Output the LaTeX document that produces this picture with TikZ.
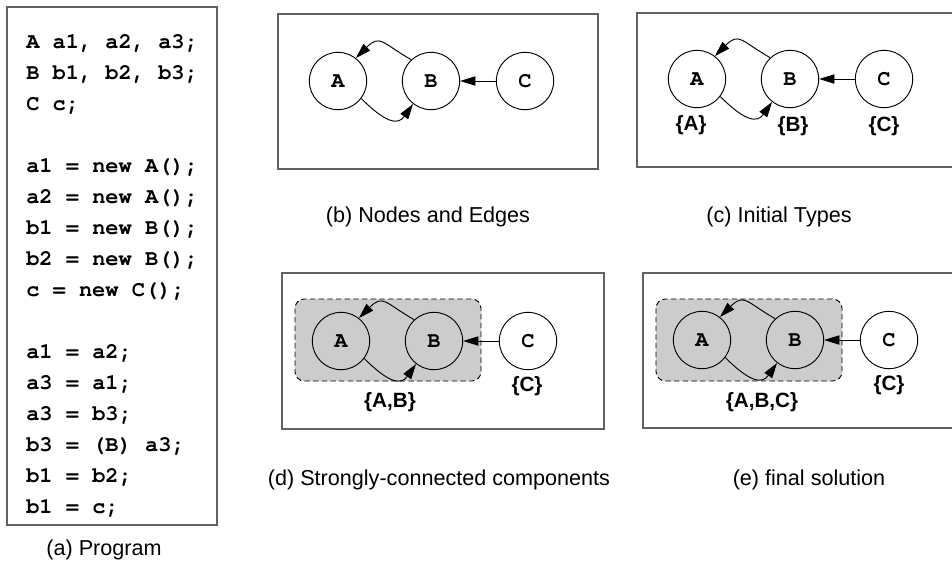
\documentclass[tikz,border=0pt]{standalone}
\usepackage{fontspec}
\setmainfont{Liberation Sans}
\newfontfamily\codefam{TeX Gyre Cursor}
\usetikzlibrary{arrows.meta}

% three-vertex graph A, B, C with the A<->B cycle and C -> B
\newcommand\abcgraph[1]{%
  \node[vertex] (#1A) at (0,0) {A};
  \node[vertex] (#1B) at (93,0) {B};
  \node[vertex] (#1C) at (187,0) {C};
  \draw[edge] (#1B.133) .. controls +(150:34) and +(45:34) .. (#1A.52);
  \draw[edge] (#1A.-37) .. controls +(-45:35) and +(-125:26) .. (#1B.-128);
  \draw[edge] (#1C) -- (#1B);
}

\begin{document}
\begin{tikzpicture}[x=0.75pt,y=0.75pt,
  panel/.style={draw=black!62, line width=1.1pt},
  code/.style={font=\codefam\bfseries\fontsize{16.5}{20}\selectfont, anchor=base west, inner sep=0pt},
  caption/.style={font=\fontsize{16.2}{20}\selectfont, inner sep=0pt},
  vertex/.style={circle, draw, line width=0.7pt, minimum size=43pt, inner sep=0pt,
                 font=\codefam\bfseries\fontsize{16.5}{20}\selectfont},
  typeset/.style={font=\bfseries\fontsize{15.5}{18}\selectfont, inner sep=0pt},
  edge/.style={-{Triangle[length=11.5pt,width=7pt]}, line width=0.7pt},
  scc/.style={draw, fill=black!20, rounded corners=7pt, line width=0.7pt, dash pattern=on 4pt off 2.5pt},
]
\useasboundingbox (0,0) rectangle (952,-565);

% (a) program
\draw[panel] (7,-7) rectangle (217,-525);
\node[code] (l0)  at (26,-48)  {A a1, a2, a3;};
\node[code] (l1)  at (26,-79)  {B b1, b2, b3;};
\node[code] (l2)  at (26,-110) {C c;};
\node[code] (l4)  at (26,-172) {a1 = new A();};
\node[code] (l5)  at (26,-203) {a2 = new A();};
\node[code] (l6)  at (26,-234) {b1 = new B();};
\node[code] (l7)  at (26,-265) {b2 = new B();};
\node[code] (l8)  at (26,-296) {c = new C();};
\node[code] (l10) at (26,-358) {a1 = a2;};
\node[code] (l11) at (26,-389) {a3 = a1;};
\node[code] (l12) at (26,-420) {a3 = b3;};
\node[code] (l13) at (26,-451) {b3 = (B) a3;};
\node[code] (l14) at (26,-482) {b1 = b2;};
\node[code] (l15) at (26,-513) {b1 = c;};
\node[caption] (capA) at (104,-550) {(a) Program};

% (b) nodes and edges
\draw[panel] (278,-14) rectangle (598,-169);
\begin{scope}[shift={(338,-81)}]
  \abcgraph{b}
\end{scope}
\node[caption] (capB) at (428,-217) {(b) Nodes and Edges};

% (c) initial types
\draw[panel] (637,-13) rectangle (960,-167);
\begin{scope}[shift={(697,-79)}]
  \abcgraph{c}
  \node[typeset] (cTA) at (-6,-46) {\{A\}};
  \node[typeset] (cTB) at (96,-47) {\{B\}};
  \node[typeset] (cTC) at (187,-47) {\{C\}};
\end{scope}
\node[caption] (capC) at (779,-217) {(c) Initial Types};

% (d) strongly-connected components
\draw[panel] (282,-273) rectangle (604,-429);
\begin{scope}[shift={(341,-341)}]
  \draw[scc] (-46,42) rectangle (140,-40);
  \abcgraph{d}
  \node[typeset] (dTC) at (186,-45) {\{C\}};
  \node[typeset] (dTAB) at (49,-61) {\{A,B\}};
\end{scope}
\node[caption] (capD) at (439,-480) {(d) Strongly-connected components};

% (e) final solution
\draw[panel] (643,-273) rectangle (960,-428);
\begin{scope}[shift={(702,-340)}]
  \draw[scc] (-46,41) rectangle (140,-41);
  \abcgraph{e}
  \node[typeset] (eTC) at (187,-45) {\{C\}};
  \node[typeset] (eTABC) at (60,-62) {\{A,B,C\}};
\end{scope}
\node[caption] (capE) at (809,-480) {(e) final solution};
\end{tikzpicture}
\end{document}
